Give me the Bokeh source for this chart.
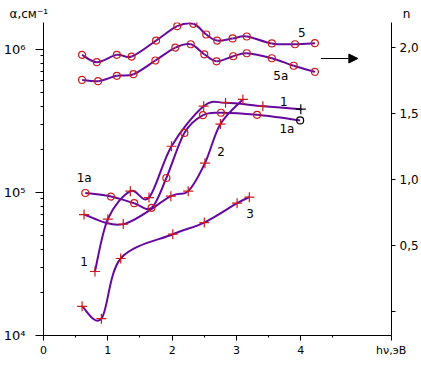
import numpy as np
from bokeh.plotting import figure
from bokeh.models import (Range1d, LinearAxis, LinearScale, FixedTicker, Label, Arrow,
                          NormalHead, Title)
from bokeh.embed import file_html
from bokeh.resources import INLINE

# ---- data ----
# curve 1 (crosses)
x1 = [0.80, 1.00, 1.35, 1.64, 1.99, 2.49, 2.83, 3.41, 4.00]
a1 = [2.8e4, 6.5e4, 1.02e5, 9.2e4, 2.1e5, 4.0e5, 4.23e5, 4.0e5, 3.81e5]
# curve 1a (circles)
x1a = [0.65, 1.05, 1.41, 1.68, 1.91, 2.19, 2.48, 2.76, 3.32, 3.99]
a1a = [9.9e4, 9.35e4, 8.4e4, 7.8e4, 1.26e5, 2.6e5, 3.46e5, 3.6e5, 3.48e5, 3.18e5]
# curve 2 (crosses)
x2 = [0.63, 1.24, 1.98, 2.25, 2.51, 2.75, 3.10]
a2 = [7.0e4, 6.0e4, 9.4e4, 1.02e5, 1.6e5, 3.0e5, 4.46e5]
# curve 3 (crosses)
x3 = [0.60, 0.90, 1.20, 2.01, 2.50, 3.01, 3.20]
a3 = [1.6e4, 1.31e4, 3.45e4, 5.1e4, 6.15e4, 8.4e4, 9.25e4]
# curve 5 (circles, right axis n)
x5 = [0.60, 0.83, 1.14, 1.37, 1.75, 2.08, 2.33, 2.53, 2.70, 2.94, 3.16, 3.55, 3.91, 4.22]
n5 = [1.947, 1.891, 1.947, 1.934, 2.055, 2.164, 2.182, 2.101, 2.055, 2.071, 2.086, 2.033, 2.027, 2.035]
# curve 5a (circles, right axis n)
x5a = [0.60, 0.85, 1.14, 1.40, 1.74, 2.05, 2.29, 2.50, 2.69, 2.95, 3.16, 3.55, 3.89, 4.22]
n5a = [1.757, 1.747, 1.788, 1.800, 1.904, 2.002, 2.027, 1.951, 1.898, 1.936, 1.959, 1.921, 1.864, 1.818]

X_END = 5.41
x_ticks = [0, 1, 2, 3, 4, 5.405]
x_labels = ["0", "1", "2", "3", "4", "h\u03bd,\u044d\u0412"]
x_minor = [0.5, 1.5, 2.5, 3.5, 4.5]
a_ticks = [1e4, 1e5, 1e6]
a_labels = ["10\u2074", "10\u2075", "10\u2076"]
n_ticks = [0.0, 0.5, 1.0, 1.5, 2.0]
n_labels = ["", "0,5", "1,0", "1,5", "2,0"]
y_title = "\u03b1,\u0441\u043c\u207b\u00b9"
n_title = "n"

LINE = "#66089e"
RED = "#cc1a1a"
FONT = "DejaVu Sans"


def cr_bezier(xs, ys):
    P = np.column_stack([xs, ys]).astype(float)
    E = np.vstack([P[0], P, P[-1]])
    out = {k: [] for k in ("x0", "y0", "x1", "y1", "cx0", "cy0", "cx1", "cy1")}
    for i in range(len(P) - 1):
        p0, p1, p2, p3 = E[i], E[i + 1], E[i + 2], E[i + 3]
        c1 = p1 + (p2 - p0) / 6.0
        c2 = p2 - (p3 - p1) / 6.0
        out["x0"].append(p1[0]); out["y0"].append(p1[1])
        out["x1"].append(p2[0]); out["y1"].append(p2[1])
        out["cx0"].append(c1[0]); out["cy0"].append(c1[1])
        out["cx1"].append(c2[0]); out["cy1"].append(c2[1])
    return {k: np.array(v) for k, v in out.items()}


def log_bezier(xs, ys):
    b = cr_bezier(xs, np.log10(ys))
    for k in ("y0", "y1", "cy0", "cy1"):
        b[k] = 10 ** b[k]
    return b


p = figure(width=421, height=366, x_range=Range1d(0, X_END),
           y_range=Range1d(1e4, 1.537e6), y_axis_type="log",
           output_backend="svg", toolbar_location=None,
           min_border_left=42, min_border_right=30,
           min_border_top=22, min_border_bottom=31)
p.extra_y_ranges = {"n": Range1d(-0.181, 2.192)}
p.extra_y_scales = {"n": LinearScale()}
p.xgrid.visible = False
p.ygrid.visible = False
p.outline_line_color = None
p.background_fill_color = "white"
p.border_fill_color = "white"

# title row: "α,см⁻¹" at the left, "n" over the right axis (spaced with no-break spaces)
ttl = Title(text=y_title + "\u00a0" * 93 + n_title, align="left", offset=-34,
            standoff=4, text_font=FONT, text_font_size="12px",
            text_font_style="normal", text_color="black")
p.add_layout(ttl, "above")

# x axis
xa = p.xaxis[0]
xa.ticker = FixedTicker(ticks=x_ticks, minor_ticks=x_minor)
xa.major_label_overrides = {t: l for t, l in zip(x_ticks, x_labels)}
xa.major_tick_in = 0
xa.major_tick_out = 5
xa.minor_tick_in = 0
xa.minor_tick_out = 2
xa.major_label_standoff = 3
xa.major_label_text_font = FONT
xa.major_label_text_font_size = "11px"
xa.major_label_text_color = "black"
xa.axis_line_color = "black"

# left axis
ya = p.yaxis[0]
minor_a = [m * 10 ** e for e in (4, 5) for m in range(2, 10)]
ya.ticker = FixedTicker(ticks=a_ticks, minor_ticks=minor_a)
ya.major_label_overrides = {t: l for t, l in zip(a_ticks, a_labels)}
ya.major_tick_in = 0
ya.major_tick_out = 8
ya.minor_tick_in = 0
ya.minor_tick_out = 3
ya.major_label_standoff = 10
ya.major_label_text_font = FONT
ya.major_label_text_font_size = "13px"
ya.major_label_text_color = "black"
ya.axis_line_color = "black"

# right axis
ra = LinearAxis(y_range_name="n")
ra.ticker = FixedTicker(ticks=n_ticks, minor_ticks=[])
ra.major_label_overrides = {t: l for t, l in zip(n_ticks, n_labels)}
ra.major_tick_in = 0
ra.major_tick_out = 4
ra.minor_tick_in = 0
ra.minor_tick_out = 0
ra.major_label_standoff = 4
ra.major_label_text_font = FONT
ra.major_label_text_font_size = "12px"
ra.major_label_text_color = "black"
ra.axis_line_color = "black"
p.add_layout(ra, "right")

# curves
for xs, ys in ((x1, a1), (x1a, a1a), (x2, a2), (x3, a3)):
    b = log_bezier(xs, ys)
    p.bezier(line_color=LINE, line_width=2, **b)
for xs, ys in ((x5, n5), (x5a, n5a)):
    b = cr_bezier(xs, ys)
    p.bezier(line_color=LINE, line_width=2, y_range_name="n", **b)


def cols(n, last_black):
    c = [RED] * n
    if last_black:
        c[-1] = "black"
    return c

p.scatter(x1, a1, marker="cross", size=10, line_color=cols(len(x1), True), line_width=1.2)
p.scatter(x2, a2, marker="cross", size=10, line_color=RED, line_width=1.2)
p.scatter(x3, a3, marker="cross", size=10, line_color=RED, line_width=1.2)
p.scatter(x1a, a1a, marker="circle", size=7, fill_color=None,
          line_color=cols(len(x1a), True), line_width=1.2)
p.scatter(x5, n5, marker="circle", size=7, fill_color=None, line_color=RED,
          line_width=1.2, y_range_name="n")
p.scatter(x5a, n5a, marker="circle", size=7, fill_color=None, line_color=RED,
          line_width=1.2, y_range_name="n")

# curve labels
lab_left = [("1", 0.632, 3.29e4), ("1a", 0.632, 1.27e5), ("2", 2.759, 1.93e5),
            ("3", 3.21, 7.11e4), ("1", 3.737, 4.31e5), ("1a", 3.784, 2.75e5)]
for t, x, y in lab_left:
    p.add_layout(Label(x=x, y=y, text=t, text_align="center", text_baseline="middle",
                       text_font=FONT, text_font_size="12px", text_color="black"))
for t, x, y in (("5", 4.017, 2.116), ("5a", 3.69, 1.79)):
    p.add_layout(Label(x=x, y=y, text=t, text_align="center", text_baseline="middle",
                       text_font=FONT, text_font_size="12px", text_color="black",
                       y_range_name="n"))

# arrow toward right axis
p.add_layout(Arrow(x_start=4.312, y_start=1.919, x_end=4.887, y_end=1.919,
                   line_color="black", line_width=1, y_range_name="n",
                   end=NormalHead(size=9, fill_color="black", line_color="black")))

open("out.html", "w").write(file_html(p, INLINE))
